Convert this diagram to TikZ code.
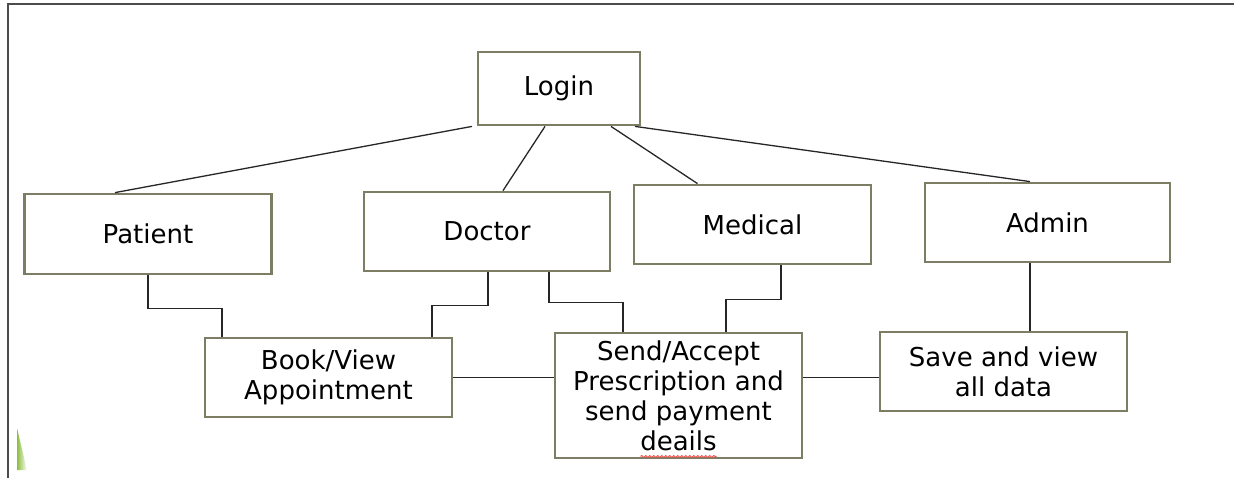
\documentclass[tikz,border=0pt]{standalone}
\usepackage{fontspec}
\setmainfont{DejaVu Sans}
\usetikzlibrary{decorations.pathmorphing}

\definecolor{boxedge}{RGB}{125,125,100}
\definecolor{slidegreen}{RGB}{140,190,60}

\begin{document}
\begin{tikzpicture}[x=1pt,y=-1pt,
  box/.style={draw=boxedge,line width=2.8pt,fill=white,align=center,
    minimum width=247pt,minimum height=79pt,inner sep=2pt,
    font=\fontsize{26}{30}\selectfont},
  link/.style={draw=black!85,line width=1.3pt}]
\useasboundingbox (0,0) rectangle (1234,477);

% slide frame and corner
\draw[black!70,line width=2pt] (1234,4) -- (8,4) -- (8,480);
\shade[left color=slidegreen,right color=white] (17,428) -- (17,470) -- (27,470) -- cycle;

\node[box,minimum width=162pt,minimum height=73pt] (login) at (559,88.5) {Login};

\node[box,minimum height=80pt] (patient) at (148,234) {Patient};
\node[box,minimum width=246pt] (doctor) at (487,231.5) {Doctor};
\node[box,minimum width=237pt] (medical) at (752.5,224.5) {Medical};
\node[box,minimum width=245pt] (admin) at (1047.5,222.5) {Admin};

\node[box] (book) at (328.5,377.5) {Book/View\\Appointment};
\node[box,minimum height=125pt] (send) at (678.5,395.5)
  {Send/Accept\\Prescription and\\send payment\\deails};
\node[box] (save) at (1003.5,371.5) {Save and view\\all data};

\draw[link] ([xshift=-87pt]login.south) -- ([xshift=-33pt]patient.north);
\draw[link] ([xshift=-14pt]login.south) -- ([xshift=16pt]doctor.north);
\draw[link] ([xshift=52pt]login.south) -- ([xshift=-55pt]medical.north);
\draw[link] ([xshift=76pt]login.south) -- ([xshift=-17.5pt]admin.north);

\draw[link] (patient.south) -- ++(0,33) -| ([xshift=-106.5pt]book.north);
\draw[link] ([xshift=1pt]doctor.south) -- ++(0,33) -| ([xshift=103.5pt]book.north);
\draw[link] ([xshift=62pt]doctor.south) -- ++(0,30) -| ([xshift=-55.5pt]send.north);
\draw[link] ([xshift=28.5pt]medical.south) -- ++(0,34) -| ([xshift=47.5pt]send.north);
\draw[link] ([xshift=-17.5pt]admin.south) -- ([xshift=26.5pt]save.north);

\draw[link] (book.east) -- (book.east -| send.west);
\draw[link] (send.east |- book.east) -- (save.west |- book.east);

% spelling mark
\draw[red!70,line width=0.9pt,decorate,decoration={snake,amplitude=1pt,segment length=4pt}]
  ([xshift=-38pt,yshift=3pt]send.south) -- ([xshift=38pt,yshift=3pt]send.south);
\end{tikzpicture}
\end{document}
